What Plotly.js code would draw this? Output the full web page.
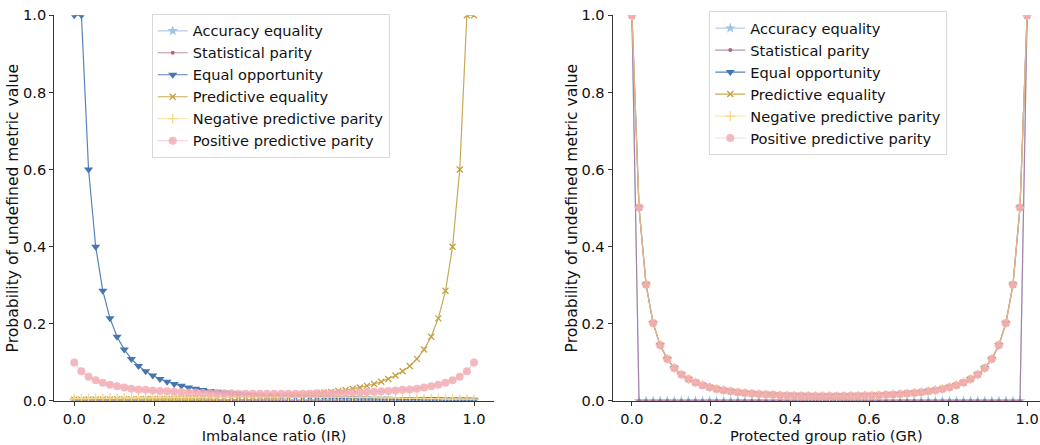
<!DOCTYPE html>
<html><head><meta charset="utf-8">
<script src="https://cdn.plot.ly/plotly-3.0.1.min.js"></script>
<style>html,body{margin:0;padding:0;background:#fff}#chart{width:1040px;height:445px}</style>
</head><body><div id="chart"></div>
<script>
// x grid (ratio values), shared by both panels
const ratio = [0,0.0179,0.0357,0.0536,0.0714,0.0893,0.1071,0.125,0.1429,0.1607,0.1786,0.1964,0.2143,0.2321,0.25,0.2679,0.2857,0.3036,0.3214,0.3393,0.3571,0.375,0.3929,0.4107,0.4286,0.4464,0.4643,0.4821,0.5,0.5179,0.5357,0.5536,0.5714,0.5893,0.6071,0.625,0.6429,0.6607,0.6786,0.6964,0.7143,0.7321,0.75,0.7679,0.7857,0.8036,0.8214,0.8393,0.8571,0.875,0.8929,0.9107,0.9286,0.9464,0.9643,0.9821,1.0];

const seriesNames = ["Accuracy equality","Statistical parity","Equal opportunity","Predictive equality","Negative predictive parity","Positive predictive parity"];

// Left panel: Imbalance ratio (IR)
const irAccuracy = [0,0,0,0,0,0,0,0,0,0,0,0,0,0,0,0,0,0,0,0,0,0,0,0,0,0,0,0,0,0,0,0,0,0,0,0,0,0,0,0,0,0,0,0,0,0,0,0,0,0,0,0,0,0,0,0,0];
const irStatParity = [0,0,0,0,0,0,0,0,0,0,0,0,0,0,0,0,0,0,0,0,0,0,0,0,0,0,0,0,0,0,0,0,0,0,0,0,0,0,0,0,0,0,0,0,0,0,0,0,0,0,0,0,0,0,0,0,0];
const irEqualOpp = [1.0,1.0,0.6,0.4,0.2857,0.2143,0.1667,0.1333,0.1091,0.0909,0.0769,0.0659,0.0571,0.05,0.0441,0.0392,0.0351,0.0316,0.0286,0.026,0.0237,0.0217,0.02,0.0185,0.0171,0.0159,0.0148,0.0138,0.0129,0.0121,0.0114,0.0107,0.0101,0.0095,0.009,0.0085,0.0081,0.0077,0.0073,0.007,0.0066,0.0063,0.0061,0.0058,0.0056,0.0053,0.0051,0.0049,0.0047,0.0045,0.0044,0.0042,0.004,0.0039,0.0038,0.0036,0.0035];
const irPredEq = [0.0035,0.0036,0.0038,0.0039,0.004,0.0042,0.0044,0.0045,0.0047,0.0049,0.0051,0.0053,0.0056,0.0058,0.0061,0.0063,0.0066,0.007,0.0073,0.0077,0.0081,0.0085,0.009,0.0095,0.0101,0.0107,0.0114,0.0121,0.0129,0.0138,0.0148,0.0159,0.0171,0.0185,0.02,0.0217,0.0237,0.026,0.0286,0.0316,0.0351,0.0392,0.0441,0.05,0.0571,0.0659,0.0769,0.0909,0.1091,0.1333,0.1667,0.2143,0.2857,0.4,0.6,1.0,1.0];
const irNegPred = [0.006,0.006,0.006,0.007,0.007,0.007,0.007,0.008,0.008,0.008,0.008,0.008,0.009,0.009,0.009,0.009,0.009,0.009,0.01,0.01,0.01,0.01,0.01,0.01,0.01,0.01,0.01,0.01,0.01,0.01,0.01,0.01,0.01,0.01,0.01,0.01,0.01,0.01,0.01,0.009,0.009,0.009,0.009,0.008,0.008,0.008,0.007,0.007,0.007,0.006,0.006,0.006,0.005,0.005,0.005,0.005,0.005];
const irPosPred = [0.1,0.077,0.063,0.054,0.047,0.042,0.038,0.035,0.032,0.03,0.029,0.027,0.026,0.025,0.024,0.023,0.022,0.022,0.021,0.021,0.02,0.02,0.02,0.019,0.019,0.019,0.019,0.019,0.019,0.019,0.019,0.019,0.019,0.019,0.02,0.02,0.02,0.021,0.021,0.022,0.022,0.023,0.024,0.025,0.026,0.027,0.029,0.03,0.032,0.035,0.038,0.042,0.047,0.054,0.063,0.077,0.1];

// Right panel: Protected group ratio (GR)
const grGroupEmpty = [1,0,0,0,0,0,0,0,0,0,0,0,0,0,0,0,0,0,0,0,0,0,0,0,0,0,0,0,0,0,0,0,0,0,0,0,0,0,0,0,0,0,0,0,0,0,0,0,0,0,0,0,0,0,0,0,1];
const grOthers = [1.0,0.5018,0.3019,0.2019,0.1449,0.1092,0.0855,0.0689,0.0569,0.0479,0.041,0.0356,0.0313,0.0279,0.0251,0.0228,0.0209,0.0193,0.0179,0.0168,0.0159,0.0151,0.0145,0.014,0.0136,0.0133,0.0131,0.0129,0.0129,0.0129,0.0131,0.0133,0.0136,0.014,0.0145,0.0151,0.0159,0.0168,0.0179,0.0193,0.0209,0.0228,0.0251,0.0279,0.0313,0.0356,0.041,0.0479,0.0569,0.0689,0.0855,0.1092,0.1449,0.2019,0.3019,0.5018,1.0];

const tickVals = [0,0.2,0.4,0.6,0.8,1.0];
const tickText = ["0.0","0.2","0.4","0.6","0.8","1.0"];

const styles = [
  {color:'#9fc2e7', line:'rgba(159,194,231,0.8)', symbol:'star', size:8},
  {color:'#b0667e', line:'rgba(160,100,140,0.7)', symbol:'circle', size:4},
  {color:'#4676b0', line:'rgba(70,118,176,0.9)', symbol:'triangle-down', size:8},
  {color:'#c4a043', line:'rgba(196,160,67,0.9)', symbol:'x-thin', size:6},
  {color:'#f5d98c', line:'rgba(245,217,140,0.6)', symbol:'cross-thin', size:7},
  {color:'rgba(243,172,180,0.85)', line:'rgba(240,160,170,0.45)', symbol:'circle', size:8}
];

function mk(i, y, xa, ya, legend){
  const s = styles[i];
  const thin = s.symbol.indexOf('thin')>=0;
  return {
    type:'scatter', mode:'lines+markers', name:seriesNames[i], x:ratio, y:y,
    xaxis:xa, yaxis:ya, legend:legend,
    line:{color:s.line, width:1.2},
    marker:{color:s.color, symbol:s.symbol, size:s.size, line:{color:s.color, width: thin?1.3:0}},
    hoverinfo:'skip'
  };
}

const leftSeries = [irAccuracy, irStatParity, irEqualOpp, irPredEq, irNegPred, irPosPred];
const rightSeries = [grGroupEmpty, grGroupEmpty, grOthers, grOthers, grOthers, grOthers];

const data = [];
leftSeries.forEach((y,i)=>data.push(mk(i,y,'x','y','legend')));
rightSeries.forEach((y,i)=>data.push(mk(i,y,'x2','y2','legend2')));

const FS = 14.6;
const font = {family:'DejaVu Sans, Verdana, sans-serif', size:FS, color:'#111'};
const axisCommon = {
  showgrid:false, zeroline:false, showline:true, linecolor:'#333', linewidth:1.1,
  ticks:'outside', ticklen:4, tickwidth:1, tickcolor:'#333',
  tickvals:tickVals, ticktext:tickText, tickfont:{family:font.family,size:FS,color:'#111'},
  automargin:false, fixedrange:true, ticklabeloverflow:'allow'
};
const legendCommon = {
  xanchor:'left', yanchor:'top', bgcolor:'rgba(255,255,255,0.85)', bordercolor:'#d8d8d8', borderwidth:1,
  font:{family:font.family,size:FS,color:'#111'}, itemwidth:30, traceorder:'normal'
};
const titleFont = {family:font.family,size:FS,color:'#111'};
const yTitleFont = {family:font.family,size:15.6,color:'#111'};

const layout = {
  width:1040, height:445, paper_bgcolor:'#fff', plot_bgcolor:'#fff', font:font,
  margin:{l:0,r:0,t:0,b:0}, showlegend:true,
  xaxis:Object.assign({}, axisCommon, {domain:[0.0522,0.475], range:[-0.05,1.05], anchor:'y',
    title:{text:'Imbalance ratio (IR)', font:titleFont, standoff:3}}),
  yaxis:Object.assign({}, axisCommon, {domain:[0.0989,0.9656], range:[0,1], anchor:'x',
    title:{text:'Probability of undefined metric value', font:yTitleFont, standoff:0}}),
  xaxis2:Object.assign({}, axisCommon, {domain:[0.5891,1], range:[-0.0488,1.0327], anchor:'y2',
    title:{text:'Protected group ratio (GR)', font:titleFont, standoff:3}}),
  yaxis2:Object.assign({}, axisCommon, {domain:[0.0989,0.9656], range:[0,1], anchor:'x2',
    title:{text:'Probability of undefined metric value', font:yTitleFont, standoff:0}}),
  legend:Object.assign({}, legendCommon, {x:0.1459, y:0.969}),
  legend2:Object.assign({}, legendCommon, {x:0.682, y:0.975})
};

Plotly.newPlot('chart', data, layout, {displayModeBar:false, staticPlot:true});
</script></body></html>
